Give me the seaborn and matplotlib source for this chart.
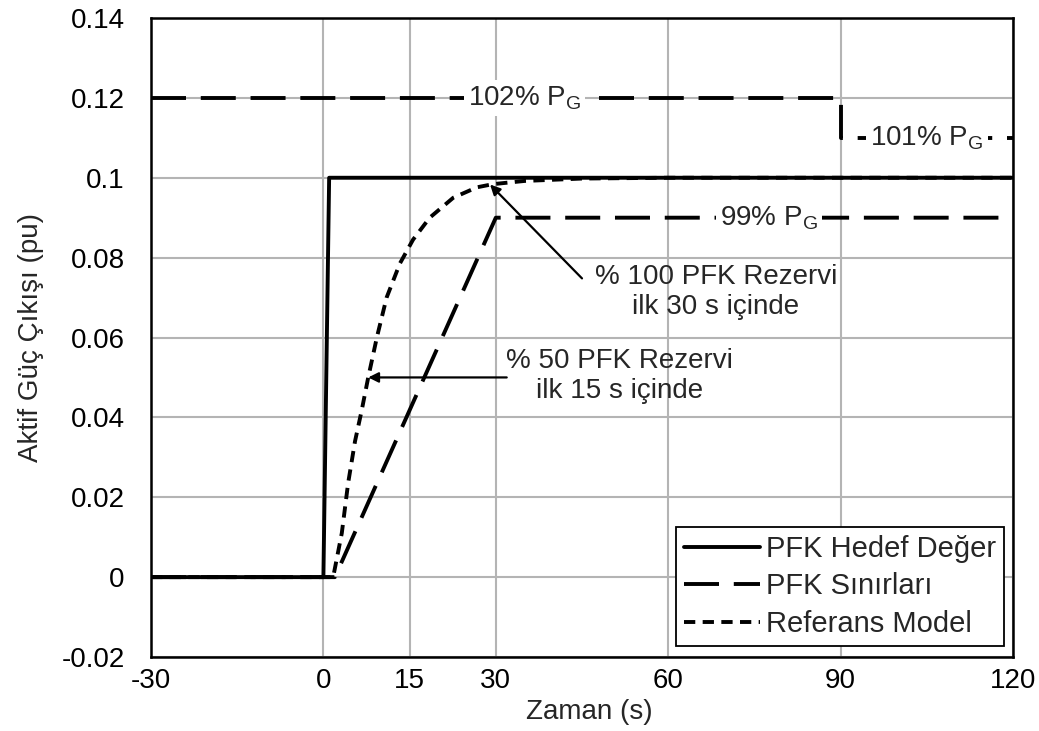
import matplotlib
matplotlib.use("Agg")
import matplotlib.pyplot as plt
import numpy as np
import pandas as pd
import seaborn as sns

# --- series -------------------------------------------------------------
target_t = [-30, 0, 1, 120]
target_p = [0.0, 0.0, 0.1, 0.1]

upper_t = [-30, 90, 90, 120]
upper_p = [0.12, 0.12, 0.11, 0.11]

lower_t = [-30, 2, 30, 120]
lower_p = [0.0, 0.0, 0.09, 0.09]

ref_t = [-30, 1.7, 3.2, 4.3, 5.5, 6.7, 7.8, 9.3, 11.0, 13.3, 15.6, 18.5,
         22.6, 26.7, 29.5, 35, 45, 60, 120]
ref_p = [0.0, 0.0, 0.011, 0.0235, 0.034, 0.042, 0.05, 0.06, 0.07, 0.0785,
         0.0845, 0.09, 0.095, 0.0976, 0.0984, 0.0992, 0.0998, 0.1, 0.1]

series_names = ["PFK Hedef Değer", "PFK Sınırları", "Referans Model"]

x_ticks = [-30, 0, 15, 30, 60, 90, 120]
y_ticks = [-0.02, 0.0, 0.02, 0.04, 0.06, 0.08, 0.10, 0.12, 0.14]
y_tick_labels = ["-0.02", "0", "0.02", "0.04", "0.06", "0.08", "0.1", "0.12", "0.14"]

band_labels = ["102% P$_\\mathregular{G}$", "101% P$_\\mathregular{G}$",
               "99% P$_\\mathregular{G}$"]
note_texts = ["% 100 PFK Rezervi\nilk 30 s içinde",
              "% 50 PFK Rezervi\nilk 15 s içinde"]

# --- style --------------------------------------------------------------
sns.set_style("white")
plt.rcParams["font.family"] = ["Liberation Sans", "DejaVu Sans"]
plt.rcParams["mathtext.fontset"] = "custom"
plt.rcParams["mathtext.rm"] = "Liberation Sans"
FS = 20

LW = 2.8
LONG_DASH = (0, (9, 3.8))
SHORT_DASH = (0, (2.9, 1.9))

fig = plt.figure(figsize=(10.39, 7.31), dpi=100)
ax = fig.add_axes([151 / 1039, 1 - 657 / 731, 862 / 1039, 639 / 731])

sns.lineplot(x=target_t, y=target_p, ax=ax, sort=False, estimator=None,
             color="black", lw=LW, label=series_names[0])
sns.lineplot(x=upper_t, y=upper_p, ax=ax, sort=False, estimator=None,
             color="black", lw=LW, linestyle=LONG_DASH, label=series_names[1])
sns.lineplot(x=lower_t, y=lower_p, ax=ax, sort=False, estimator=None,
             color="black", lw=LW, linestyle=LONG_DASH, label="_lower")
sns.lineplot(x=ref_t, y=ref_p, ax=ax, sort=False, estimator=None,
             color="black", lw=LW, linestyle=SHORT_DASH, label=series_names[2])

ax.set_xlim(-30, 120)
ax.set_ylim(-0.02, 0.14)
ax.set_xticks(x_ticks)
ax.set_xticklabels([str(v) for v in x_ticks])
ax.set_yticks(y_ticks)
ax.set_yticklabels(y_tick_labels)
ax.tick_params(axis="both", length=0, labelsize=FS, colors="black")
ax.tick_params(axis="x", pad=8)
ax.tick_params(axis="y", pad=19)

ax.grid(True, color="#b4b4b4", lw=1.5)
ax.set_axisbelow(True)
for s in ax.spines.values():
    s.set_color("black")
    s.set_linewidth(1.8)

ax.set_xlabel("Zaman (s)", fontsize=FS)
ax.xaxis.set_label_coords(0.508, -0.066)
ax.set_ylabel("Aktif Güç Çıkışı (pu)", fontsize=FS)
ax.yaxis.set_label_coords(-0.124, 0.5)

# limit labels sitting on the dashed lines
box = dict(facecolor="white", edgecolor="none", pad=3)
for txt, (bx, by) in zip(band_labels, [(35, 0.12), (105, 0.11), (77.5, 0.09)]):
    ax.text(bx, by, txt, fontsize=FS, ha="center", va="center", bbox=box, zorder=5)

# reserve notes with arrows
arrow = dict(arrowstyle="-|>", color="black", lw=1.6, mutation_scale=15,
             shrinkA=0, shrinkB=0)
ax.text(68.3, 0.0715, note_texts[0], fontsize=FS, ha="center", va="center",
        multialignment="center")
ax.annotate("", xy=(29.0, 0.0983), xytext=(45.0, 0.0748), arrowprops=arrow)
ax.text(51.6, 0.0503, note_texts[1], fontsize=FS, ha="center", va="center",
        multialignment="center")
ax.annotate("", xy=(7.8, 0.05), xytext=(31.9, 0.05), arrowprops=arrow)

handles = [l for l in ax.get_lines() if not l.get_label().startswith("_")]
leg = ax.legend(handles=handles, labels=series_names, loc="lower right",
                bbox_to_anchor=(1004 / 1039, 1 - 646 / 731),
                bbox_transform=fig.transFigure, fontsize=21, frameon=True,
                fancybox=False, framealpha=1, edgecolor="black",
                handlelength=2.6, handletextpad=0.2, labelspacing=0.32,
                borderpad=0.28, borderaxespad=0)
leg.get_frame().set_linewidth(1.3)

fig.savefig("out.png", dpi=100, facecolor="white")
